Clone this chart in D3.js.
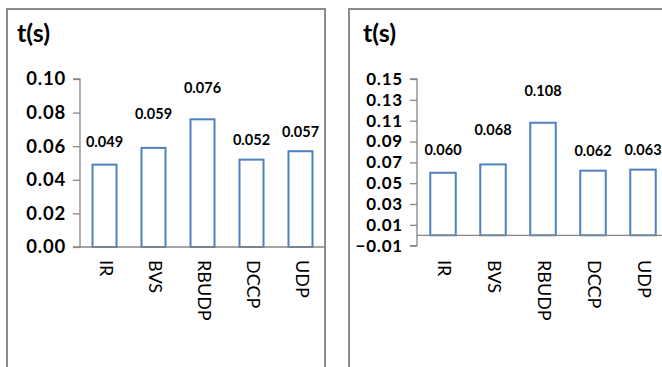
<!DOCTYPE html>
<html><head><meta charset="utf-8">
<script src="https://cdn.jsdelivr.net/npm/d3@7"></script>
<style>
html,body{margin:0;padding:0;background:#fff;}
svg{display:block;}
</style></head>
<body>
<svg id="chart" width="662" height="367"></svg>
<script>
// ---- data ----
const categories = ["IR", "BVS", "RBUDP", "DCCP", "UDP"];
const valuesLeft = [0.049, 0.059, 0.076, 0.052, 0.057];
const valuesRight = [0.060, 0.068, 0.108, 0.062, 0.063];
const ticksLeft = [0.00, 0.02, 0.04, 0.06, 0.08, 0.10];
const ticksRight = [-0.01, 0.01, 0.03, 0.05, 0.07, 0.09, 0.11, 0.13, 0.15];
const titleText = "t(s)";

// ---- drawing ----
const svg = d3.select("#chart");
const FONT = "Lato, 'Open Sans', sans-serif";
const labelGap = [21, 33, 30, 18, 18];

function panel(cfg) {
  const g = svg.append("g");
  g.append("rect").attr("x", cfg.box[0]).attr("y", cfg.box[1])
    .attr("width", cfg.box[2]).attr("height", cfg.box[3])
    .attr("fill", "#fff").attr("stroke", "#8c8c8c").attr("stroke-width", 2);
  g.append("text").attr("x", cfg.titleX).attr("y", 42)
    .attr("font-family", FONT).attr("font-weight", "bold").attr("font-size", 25)
    .attr("fill", "#000").text(titleText);

  const y = d3.scaleLinear().domain(cfg.domain).range([cfg.yBottom, cfg.yTop]);
  const x = d3.scaleBand().domain(categories).range([cfg.xLeft, cfg.xRight])
    .paddingInner(cfg.pad).paddingOuter(cfg.pad / 2);

  // y axis
  const yAxis = d3.axisLeft(y).tickValues(cfg.ticks)
    .tickFormat(d3.format(".2f")).tickSize(7).tickPadding(cfg.tickPad);
  const ya = g.append("g").attr("transform", `translate(${cfg.axisX},0)`).call(yAxis);
  ya.select(".domain").attr("stroke", "#868686").attr("stroke-width", 1.3)
    .attr("d", `M-7,${y(cfg.domain[1])}H0V${y(cfg.domain[0])}H-7`);
  ya.selectAll(".tick line").attr("stroke", "#868686").attr("stroke-width", 1.3);
  ya.selectAll(".tick text").attr("font-family", FONT).attr("font-weight", "bold")
    .attr("font-size", cfg.tickFont).attr("letter-spacing", 0.8).attr("fill", "#000");

  // bars
  g.selectAll("rect.bar").data(cfg.values).enter().append("rect")
    .attr("class", "bar")
    .attr("x", (d, i) => x(categories[i]))
    .attr("y", d => y(d))
    .attr("width", x.bandwidth())
    .attr("height", d => y(0) - y(d))
    .attr("fill", "#fff").attr("stroke", "#4f81bd").attr("stroke-width", 2);

  // baseline
  g.append("line").attr("x1", cfg.axisX).attr("x2", cfg.baseEnd)
    .attr("y1", y(0)).attr("y2", y(0))
    .attr("stroke", "#868686").attr("stroke-width", 1.3);

  // value labels
  g.selectAll("text.val").data(cfg.values).enter().append("text")
    .attr("class", "val")
    .attr("x", (d, i) => x(categories[i]) + x.bandwidth() / 2)
    .attr("y", (d, i) => y(d) - labelGap[i])
    .attr("text-anchor", "middle").attr("dominant-baseline", "middle")
    .attr("font-family", FONT).attr("font-weight", "bold").attr("font-size", 14.5)
    .attr("fill", "#000")
    .text(d => d3.format(".3f")(d));

  // category labels
  g.selectAll("text.cat").data(categories).enter().append("text")
    .attr("class", "cat")
    .attr("transform", d => `translate(${x(d) + x.bandwidth() / 2},${cfg.catY}) rotate(90)`)
    .attr("text-anchor", "start").attr("dominant-baseline", "middle")
    .attr("font-family", FONT).attr("font-size", 18).attr("fill", "#000")
    .text(d => d);
}

panel({
  box: [7, 9, 318, 370], titleX: 17,
  domain: [0, 0.10], yTop: 79, yBottom: 247,
  xLeft: 80, xRight: 325, pad: 0.51, axisX: 80, baseEnd: 325,
  ticks: ticksLeft, values: valuesLeft, tickPad: 7, catY: 260, tickFont: 18.5
});
panel({
  box: [349, 9, 330, 370], titleX: 363,
  domain: [-0.01, 0.15], yTop: 79, yBottom: 245.7,
  xLeft: 418, xRight: 668, pad: 0.49, axisX: 417, baseEnd: 662,
  ticks: ticksRight, values: valuesRight, tickPad: 7, catY: 260, tickFont: 17
});
</script>
</body></html>
